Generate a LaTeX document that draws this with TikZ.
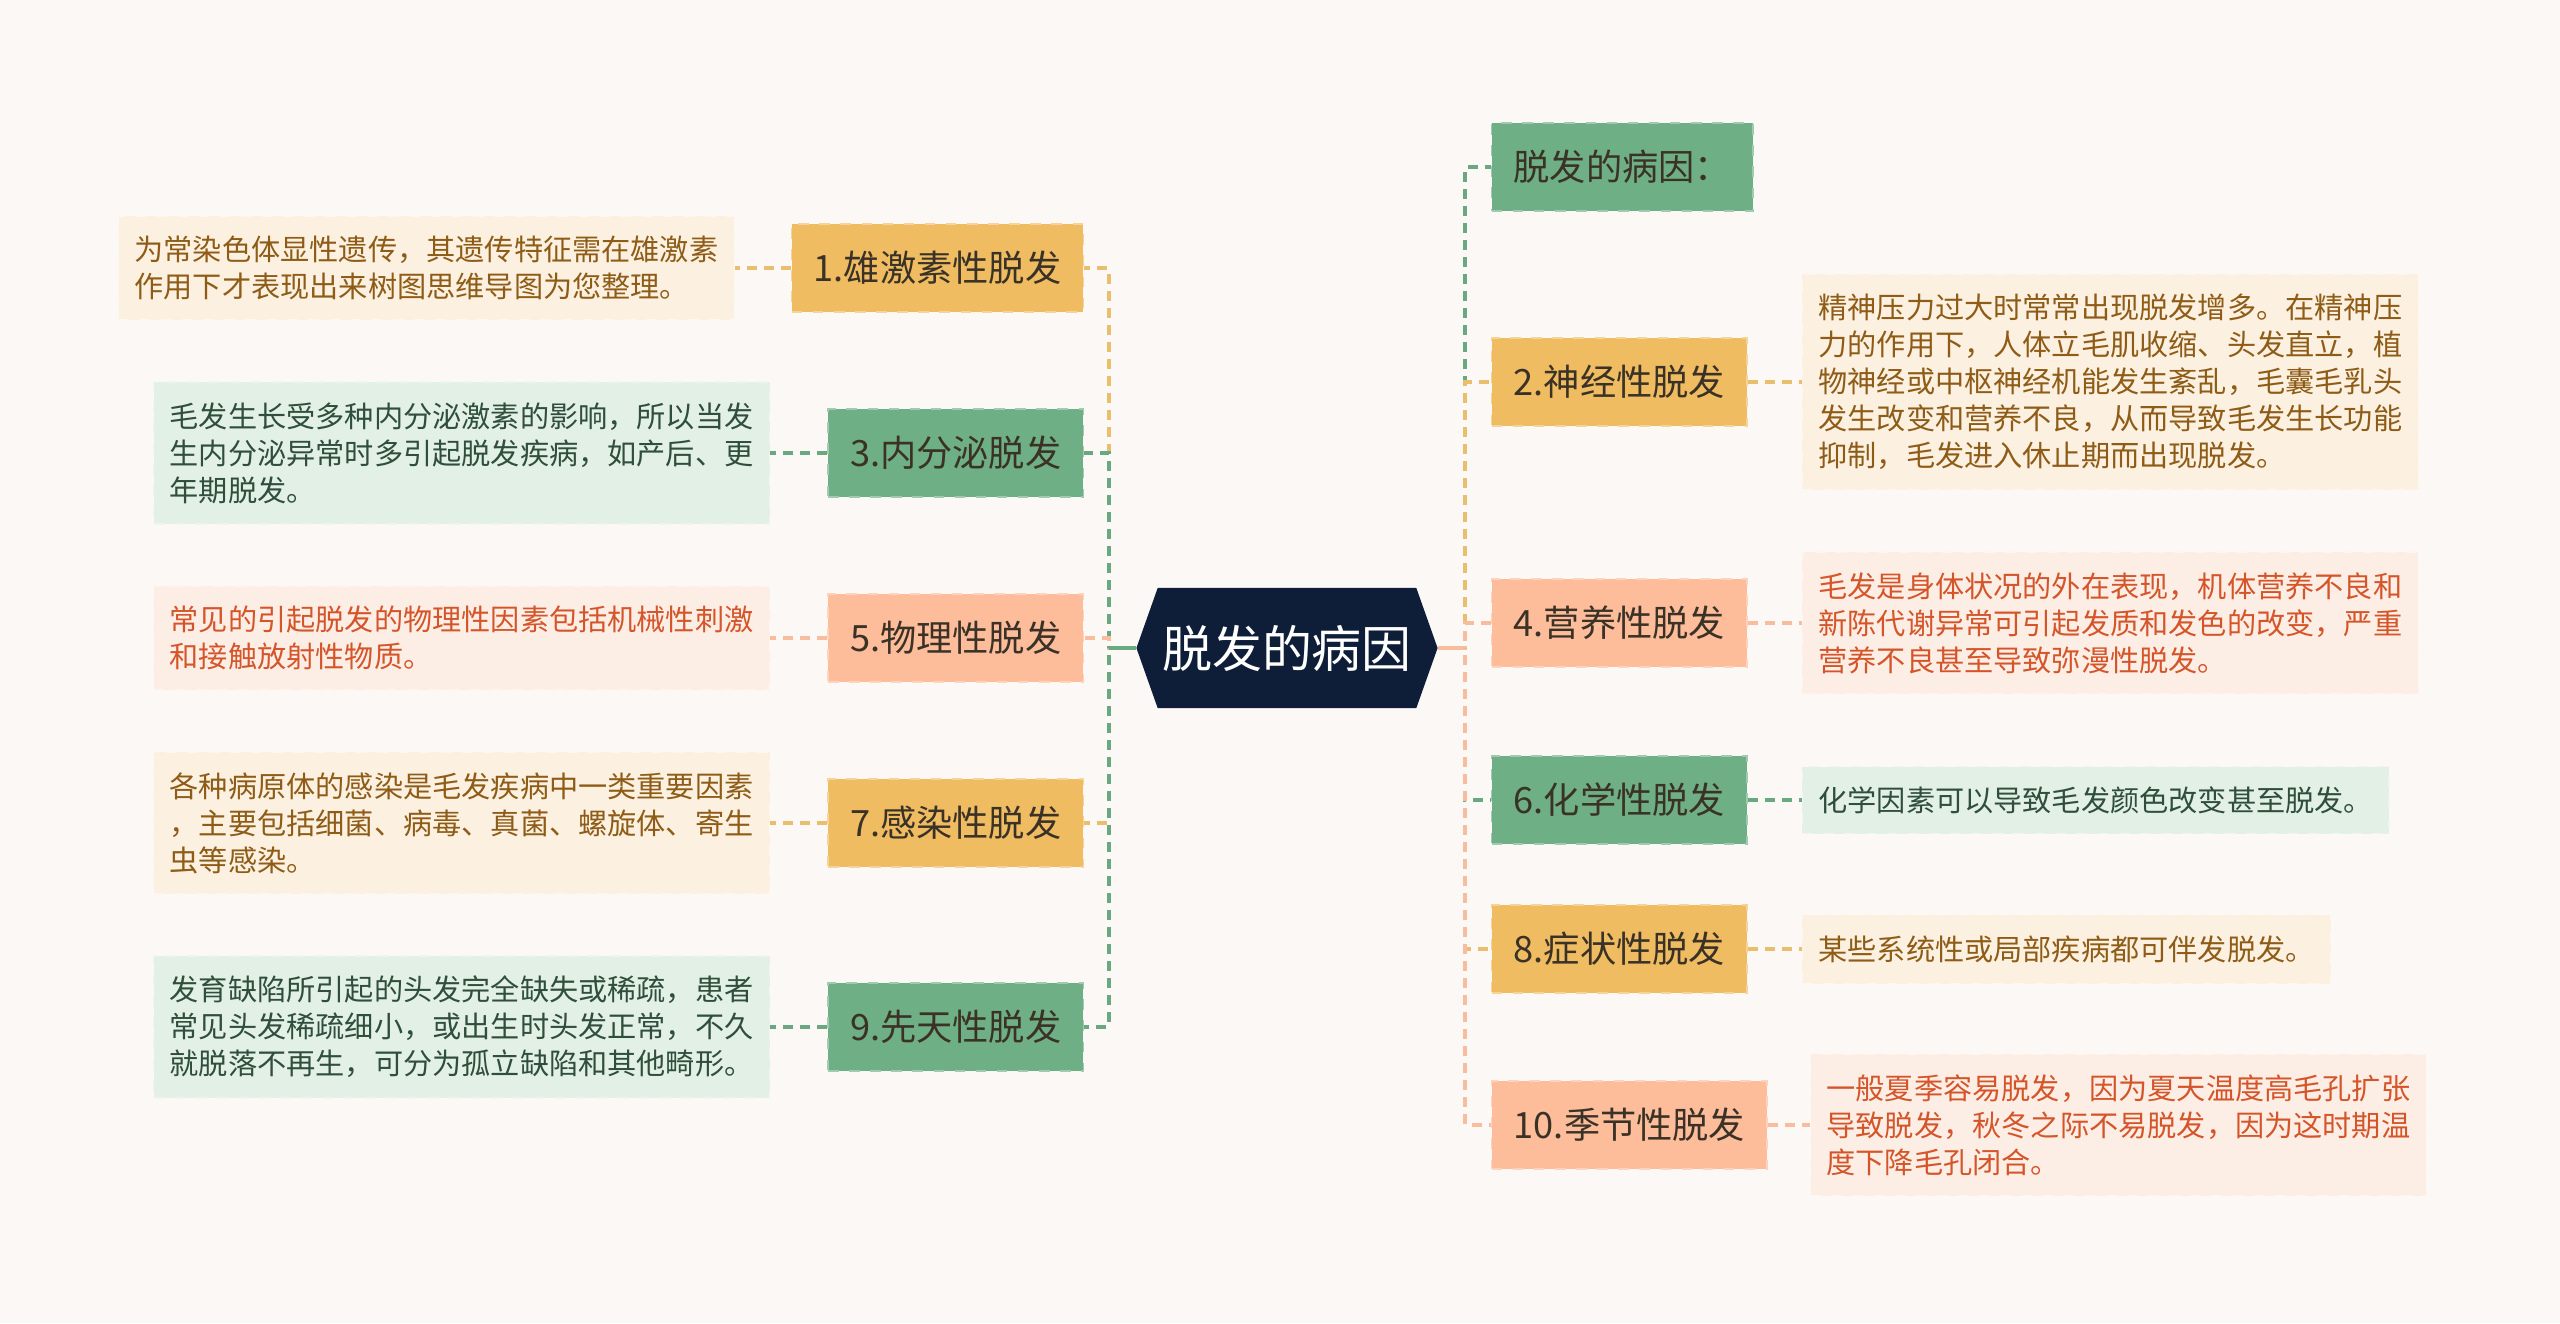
\documentclass[tikz,border=0pt]{standalone}
\usepackage{fontspec}
\setmainfont{Noto Sans CJK SC}
\usetikzlibrary{
	positioning,
	shapes.symbols
}

\definecolor{beijing}{HTML}{FCF8F6}
\definecolor{shenlan}{HTML}{0E1E38}
\definecolor{cheng}{HTML}{F0BC62}
\definecolor{lv}{HTML}{6FAF85}
\definecolor{fen}{HTML}{FDBC9A}
\definecolor{chengqian}{HTML}{FCF1E1}
\definecolor{lvqian}{HTML}{E3F0E6}
\definecolor{fenqian}{HTML}{FDEEE5}
\definecolor{chengzi}{HTML}{8E5C17}
\definecolor{lvzi}{HTML}{2F4E3B}
\definecolor{fenzi}{HTML}{D5552A}
\definecolor{zhuzi}{HTML}{3A3226}
\definecolor{chengxian}{HTML}{E9BF6E}
\definecolor{lvxian}{HTML}{6AA882}
\definecolor{fenxian}{HTML}{F8BC9E}

\begin{document}
\begin{tikzpicture}[
			x=0.01cm, y=-0.01cm,
			zhongxin/.style={signal, signal to=east and west, signal pointer angle=141, fill=shenlan, text=white, font=\fontsize{14.2}{17}\selectfont, minimum width=3.01cm, minimum height=1.2cm, inner sep=0pt},
			fenzhi/.style={draw=white!35!#1, dashed, fill=#1, text=zhuzi, font=\fontsize{10.3}{12}\selectfont, inner xsep=0.22cm, inner ysep=0pt, minimum height=0.88cm},
			shuoming/.style 2 args={draw=white!40!#1, dashed, fill=#1, text=#2, align=left, font=\fontsize{8.3}{10.5}\selectfont, inner xsep=0.16cm, inner ysep=0pt},
			lian/.style={line width=1.1pt, dash pattern=on 0.1cm off 0.07cm},
			zhixian/.style={line width=1.1pt}
		]

		\fill[beijing] (0,0) rectangle (2560,1323);
		\useasboundingbox (0,0) rectangle (2560,1323);

		\node[zhongxin] (zx) at (1287,648) {脱发的病因};

		% left side
		\node[fenzhi=cheng, anchor=east] (n1) at (1084,268) {1.雄激素性脱发};
		\node[fenzhi=lv, anchor=east] (n3) at (1084,453) {3.内分泌脱发};
		\node[fenzhi=fen, anchor=east] (n5) at (1084,638) {5.物理性脱发};
		\node[fenzhi=cheng, anchor=east] (n7) at (1084,823) {7.感染性脱发};
		\node[fenzhi=lv, anchor=east] (n9) at (1084,1027) {9.先天性脱发};

		\node[shuoming={chengqian}{chengzi}, minimum height=1.04cm, left=0.56cm of n1] (s1) {为常染色体显性遗传，其遗传特征需在雄激素\\作用下才表现出来树图思维导图为您整理。};
		\node[shuoming={lvqian}{lvzi}, minimum height=1.42cm, left=0.57cm of n3] (s3) {毛发生长受多种内分泌激素的影响，所以当发\\生内分泌异常时多引起脱发疾病，如产后、更\\年期脱发。};
		\node[shuoming={fenqian}{fenzi}, minimum height=1.04cm, left=0.57cm of n5] (s5) {常见的引起脱发的物理性因素包括机械性刺激\\和接触放射性物质。};
		\node[shuoming={chengqian}{chengzi}, minimum height=1.42cm, left=0.57cm of n7] (s7) {各种病原体的感染是毛发疾病中一类重要因素\\，主要包括细菌、病毒、真菌、螺旋体、寄生\\虫等感染。};
		\node[shuoming={lvqian}{lvzi}, minimum height=1.42cm, left=0.57cm of n9] (s9) {发育缺陷所引起的头发完全缺失或稀疏，患者\\常见头发稀疏细小，或出生时头发正常，不久\\就脱落不再生，可分为孤立缺陷和其他畸形。};

		% right side
		\node[fenzhi=lv, anchor=west] (n0) at (1491,167) {脱发的病因：};
		\node[fenzhi=cheng, anchor=west] (n2) at (1491,382) {2.神经性脱发};
		\node[fenzhi=fen, anchor=west] (n4) at (1491,623) {4.营养性脱发};
		\node[fenzhi=lv, anchor=west] (n6) at (1491,800) {6.化学性脱发};
		\node[fenzhi=cheng, anchor=west] (n8) at (1491,949) {8.症状性脱发};
		\node[fenzhi=fen, anchor=west] (n10) at (1491,1125) {10.季节性脱发};

		\node[shuoming={chengqian}{chengzi}, minimum height=2.16cm, right=0.54cm of n2] (s2) {精神压力过大时常常出现脱发增多。在精神压\\力的作用下，人体立毛肌收缩、头发直立，植\\物神经或中枢神经机能发生紊乱，毛囊毛乳头\\发生改变和营养不良，从而导致毛发生长功能\\抑制，毛发进入休止期而出现脱发。};
		\node[shuoming={fenqian}{fenzi}, minimum height=1.42cm, right=0.54cm of n4] (s4) {毛发是身体状况的外在表现，机体营养不良和\\新陈代谢异常可引起发质和发色的改变，严重\\营养不良甚至导致弥漫性脱发。};
		\node[shuoming={lvqian}{lvzi}, minimum height=0.67cm, right=0.54cm of n6] (s6) {化学因素可以导致毛发颜色改变甚至脱发。};
		\node[shuoming={chengqian}{chengzi}, minimum height=0.69cm, right=0.54cm of n8] (s8) {某些系统性或局部疾病都可伴发脱发。};
		\node[shuoming={fenqian}{fenzi}, minimum height=1.41cm, right=0.42cm of n10] (s10) {一般夏季容易脱发，因为夏天温度高毛孔扩张\\导致脱发，秋冬之际不易脱发，因为这时期温\\度下降毛孔闭合。};

		% connectors
		\draw[lian, chengxian] (zx.west) -- ++(-27,0) |- (n1.east);
		\draw[lian, lvxian] (zx.west) -- ++(-27,0) |- (n3.east);
		\draw[lian, fenxian] (zx.west) -- ++(-27,0) |- (n5.east);
		\draw[lian, chengxian] (zx.west) -- ++(-27,0) |- (n7.east);
		\draw[lian, lvxian] (zx.west) -- ++(-27,0) |- (n9.east);
		\draw[zhixian, lvxian] (zx.west) -- ++(-27,0);

		\draw[lian, lvxian] (zx.east) -- ++(27,0) |- (n0.west);
		\draw[lian, chengxian] (zx.east) -- ++(27,0) |- (n2.west);
		\draw[lian, fenxian] (zx.east) -- ++(27,0) |- (n4.west);
		\draw[lian, lvxian] (zx.east) -- ++(27,0) |- (n6.west);
		\draw[lian, chengxian] (zx.east) -- ++(27,0) |- (n8.west);
		\draw[lian, fenxian] (zx.east) -- ++(27,0) |- (n10.west);
		\draw[zhixian, fenxian] (zx.east) -- ++(27,0);

		\draw[lian, chengxian] (n1.west) -- (s1.east);
		\draw[lian, lvxian] (n3.west) -- (s3.east);
		\draw[lian, fenxian] (n5.west) -- (s5.east);
		\draw[lian, chengxian] (n7.west) -- (s7.east);
		\draw[lian, lvxian] (n9.west) -- (s9.east);
		\draw[lian, chengxian] (n2.east) -- (s2.west);
		\draw[lian, fenxian] (n4.east) -- (s4.west);
		\draw[lian, lvxian] (n6.east) -- (s6.west);
		\draw[lian, chengxian] (n8.east) -- (s8.west);
		\draw[lian, fenxian] (n10.east) -- (s10.west);
	\end{tikzpicture}
\end{document}
